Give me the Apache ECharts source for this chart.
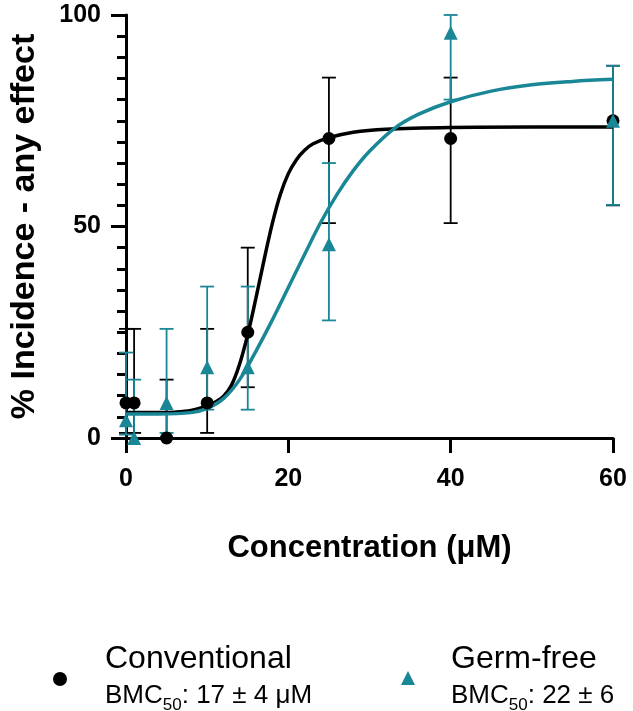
<!DOCTYPE html>
<html>
<head>
<meta charset="utf-8">
<script src="https://cdn.jsdelivr.net/npm/echarts@6/dist/echarts.min.js"></script>
<style>
html,body{margin:0;padding:0;background:#fff;}
#chart{width:633px;height:711px;}
</style>
</head>
<body>
<div id="chart"></div>
<script>
// ---- data ----
const concentrations = [0, 1, 5, 10, 15, 25, 40, 60];

const convMean = [8.3, 8.3, 0, 8.3, 25, 70.8, 70.8, 75];
const convLow  = [1.2, 1.2, 0, 1.2, 12, 50.8, 50.8, 55];
const convHigh = [25.8, 25.8, 13.8, 25.8, 45, 85.2, 85.2, 88];

const germMean = [4.2, 0, 8.3, 16.7, 16.7, 45.8, 95.8, 75];
const germLow  = [0.8, 0, 1.2, 6.7, 6.7, 27.8, 80, 55.1];
const germHigh = [20.2, 13.8, 25.8, 35.8, 35.8, 65, 100, 88];

const convFitX = [0, 2, 4, 6, 8, 10, 11, 12, 13, 14, 15, 16, 17, 18, 19, 20, 21, 22, 23, 25, 28, 32, 40, 50, 60];
const convFitY = [6.0, 6.0, 6.0, 6.1, 6.5, 7.6, 8.5, 9.8, 12.5, 17.5, 24.5, 33, 42, 50.5, 57.5, 62.5, 65.8, 68, 69.5, 71, 72.3, 73, 73.4, 73.5, 73.5];

const germFitX = [0, 4, 8, 10, 12, 14, 16, 18, 20, 22, 24, 26, 28, 30, 33, 36, 40, 45, 50, 55, 60];
const germFitY = [5.7, 5.7, 6.0, 7.0, 9.3, 13.8, 20.5, 27.8, 35.6, 43.4, 51, 57.6, 63.2, 67.8, 73.1, 76.5, 79.5, 82, 83.5, 84.3, 84.8];

const xTicks = [0, 20, 40, 60];
const yTicks = [0, 50, 100];

const BLACK = '#000000';
const TEAL = '#1a8797';
const FONT = 'Liberation Sans, Arial, Helvetica, sans-serif';

const zip = (a, b) => a.map((v, i) => [v, b[i]]);
const errData = (mean, lo, hi) => concentrations.map((c, i) => [c, lo[i], hi[i], mean[i]]);

function makeErr(color) {
  return function (params, api) {
    const x = api.value(0);
    const lo = api.value(1), hi = api.value(2), m = api.value(3);
    const pLo = api.coord([x, lo]);
    const pHi = api.coord([x, hi]);
    const cw = 7;
    const style = { stroke: color, lineWidth: 1.8, fill: null };
    const children = [{
      type: 'line', shape: { x1: pLo[0], y1: pLo[1], x2: pHi[0], y2: pHi[1] }, style: style
    }];
    if (hi !== m) children.push({ type: 'line', shape: { x1: pHi[0] - cw, y1: pHi[1], x2: pHi[0] + cw, y2: pHi[1] }, style: style });
    if (lo !== m) children.push({ type: 'line', shape: { x1: pLo[0] - cw, y1: pLo[1], x2: pLo[0] + cw, y2: pLo[1] }, style: style });
    return { type: 'group', children: children };
  };
}

const chart = echarts.init(document.getElementById('chart'), null, { renderer: 'canvas' });

const legendRich = {
  t: { fontSize: 32, fontFamily: FONT, color: '#000', lineHeight: 38 },
  b: { fontSize: 26, fontFamily: FONT, color: '#000', lineHeight: 36, verticalAlign: 'bottom', padding: [0, 0, 5, 0] },
  s: { fontSize: 17, fontFamily: FONT, color: '#000', lineHeight: 36, verticalAlign: 'bottom' }
};

const option = {
  animation: false,
  backgroundColor: '#ffffff',
  grid: { left: 124, right: 20, top: 15, bottom: 273, containLabel: false },
  xAxis: {
    type: 'value', min: 0, max: 60, interval: 20,
    name: 'Concentration (μM)', nameLocation: 'middle', nameGap: 95,
    nameTextStyle: { fontFamily: FONT, fontWeight: 'bold', fontSize: 31, color: '#000' },
    axisLine: { show: true, onZero: false, lineStyle: { color: BLACK, width: 3 } },
    axisTick: { show: true, length: 15, lineStyle: { color: BLACK, width: 3 } },
    axisLabel: { margin: 29, fontFamily: FONT, fontWeight: 'bold', fontSize: 25, color: '#000',
      customValues: xTicks },
    splitLine: { show: false }
  },
  yAxis: {
    type: 'value', min: 0, max: 100, interval: 50,
    name: '% Incidence - any effect', nameLocation: 'middle', nameGap: 84,
    nameTextStyle: { fontFamily: FONT, fontWeight: 'bold', fontSize: 34, color: '#000' },
    axisLine: { show: true, onZero: false, lineStyle: { color: BLACK, width: 3 } },
    axisTick: { show: true, length: 15, lineStyle: { color: BLACK, width: 3 } },
    minorTick: { show: true, splitNumber: 10, length: 9, lineStyle: { color: BLACK, width: 3 } },
    axisLabel: { margin: 25, fontFamily: FONT, fontWeight: 'bold', fontSize: 25, color: '#000',
      customValues: yTicks },
    splitLine: { show: false },
    minorSplitLine: { show: false }
  },
  legend: [
    {
      data: ['Conventional'], left: 48, top: 638, orient: 'horizontal',
      itemWidth: 14, itemHeight: 14,
      textStyle: { padding: [0, 0, 4, 33], rich: legendRich },
      formatter: () => '{t|Conventional}\n{b|BMC}{s|50}{b|: 17 ± 4 μM}'
    },
    {
      data: ['Germ-free'], left: 396, top: 638, orient: 'horizontal',
      itemWidth: 14, itemHeight: 14,
      textStyle: { padding: [0, 0, 2, 31], rich: legendRich },
      formatter: () => '{t|Germ-free}\n{b|BMC}{s|50}{b|: 22 ± 6}'
    }
  ],
  series: [
    {
      name: 'Conventional error', type: 'custom', renderItem: makeErr(BLACK),
      data: errData(convMean, convLow, convHigh), encode: { x: 0, y: [1, 2] }, z: 1, clip: false
    },
    {
      name: 'Germ-free error', type: 'custom', renderItem: makeErr(TEAL),
      data: errData(germMean, germLow, germHigh), encode: { x: 0, y: [1, 2] }, z: 2, clip: false
    },
    {
      name: 'Conventional fit', type: 'line', data: zip(convFitX, convFitY), smooth: 0.35,
      showSymbol: false, symbol: 'none', lineStyle: { color: BLACK, width: 3.5 }, z: 3
    },
    {
      name: 'Germ-free fit', type: 'line', data: zip(germFitX, germFitY), smooth: 0.35,
      showSymbol: false, symbol: 'none', lineStyle: { color: TEAL, width: 3.5 }, z: 4
    },
    {
      name: 'Conventional', type: 'scatter', data: zip(concentrations, convMean),
      symbol: 'circle', symbolSize: 13, itemStyle: { color: BLACK, opacity: 1 }, z: 5
    },
    {
      name: 'Germ-free', type: 'scatter', data: zip(concentrations, germMean),
      symbol: 'triangle', symbolSize: 14, itemStyle: { color: TEAL, opacity: 1 }, z: 6
    }
  ]
};

chart.setOption(option);
</script>
</body>
</html>
